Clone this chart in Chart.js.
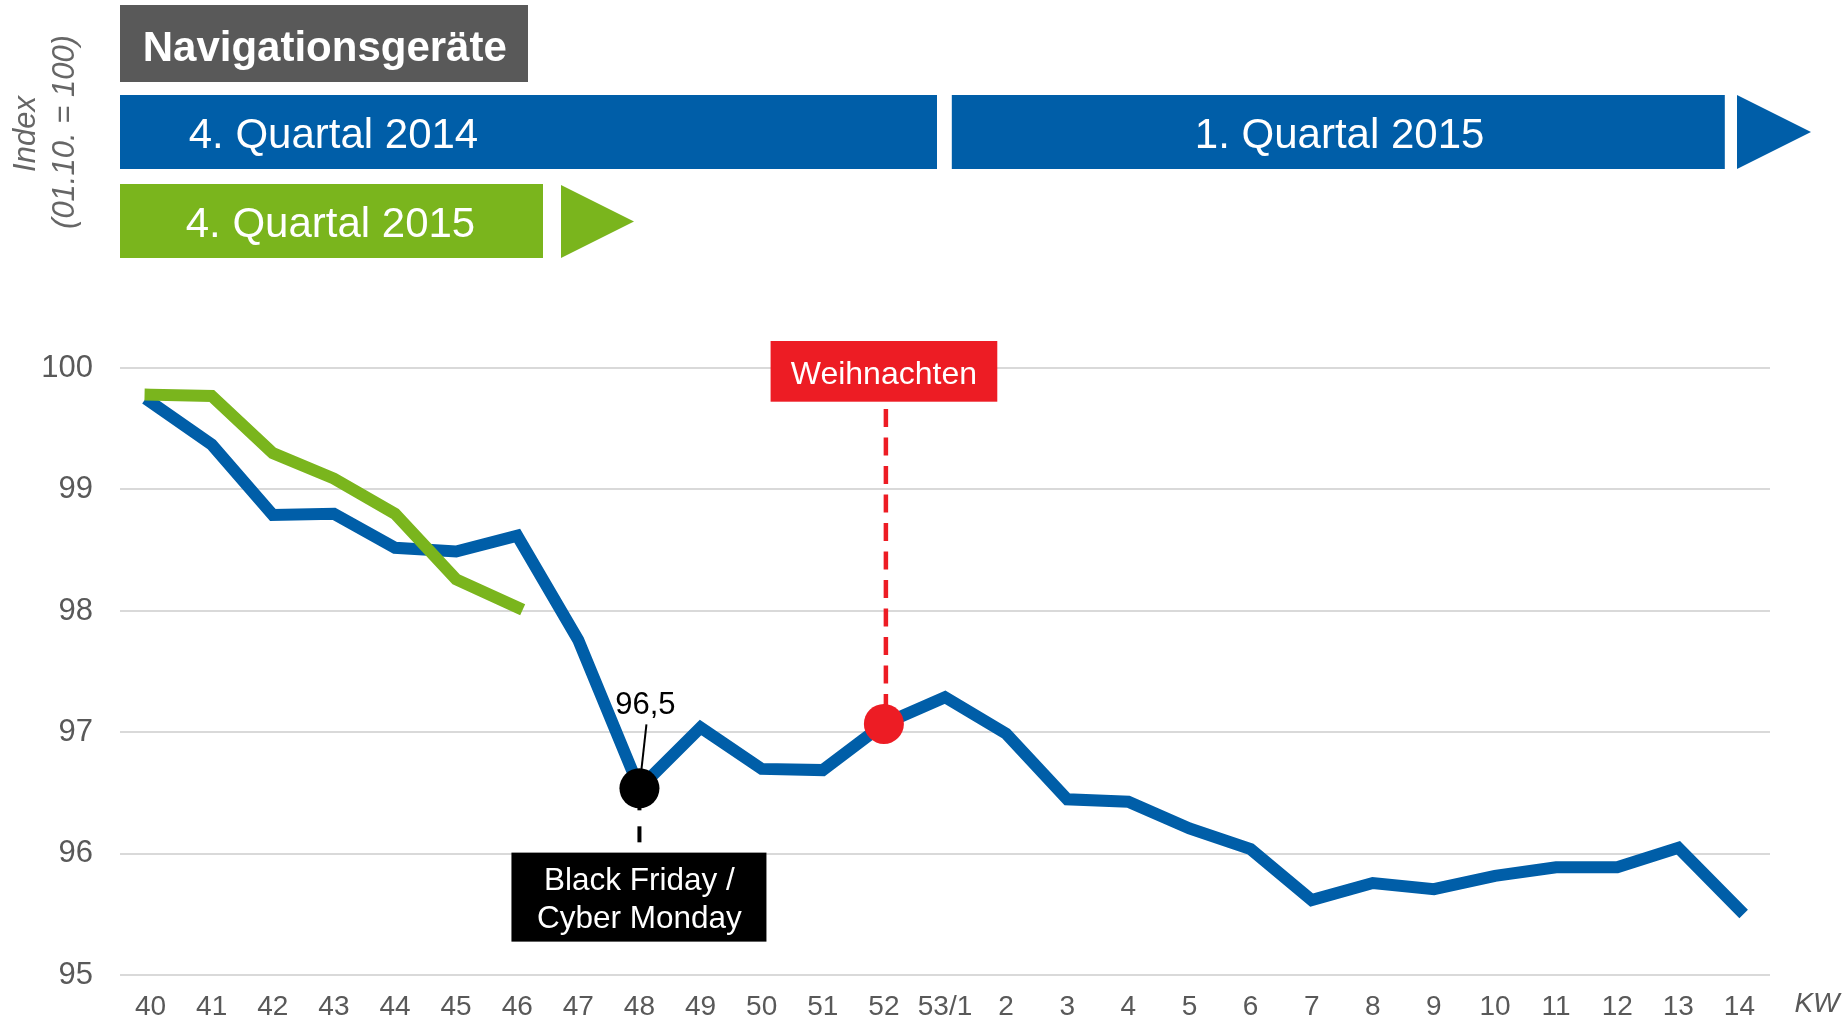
<!DOCTYPE html>
<html><head><meta charset="utf-8">
<script src="https://cdn.jsdelivr.net/npm/chart.js@4/dist/chart.umd.min.js"></script>
<style>html,body{margin:0;padding:0;background:#fff;overflow:hidden}#wrap{width:1844px;height:1021px;position:relative}</style>
</head><body><div id="wrap"><canvas id="c" width="1844" height="1021"></canvas></div>
<script>
// ---- data ----
const categories = ['40','41','42','43','44','45','46','47','48','49','50','51','52','53/1','2','3','4','5','6','7','8','9','10','11','12','13','14'];
const values2014_15 = [99.72,99.37,98.79,98.80,98.52,98.49,98.62,97.76,96.54,97.04,96.70,96.69,97.07,97.29,96.99,96.45,96.43,96.21,96.04,95.62,95.76,95.71,95.82,95.89,95.89,96.05,95.54];
const values2015 = [99.78,99.77,99.30,99.09,98.80,98.26,98.03];
const yMin = 95, yMax = 100, yStep = 1;
const titleText = 'Navigationsgeräte';
const quarterLabels = ['4. Quartal 2014','1. Quartal 2015','4. Quartal 2015'];
const yTitleLines = ['Index','(01.10. = 100)'];
const xUnit = 'KW';
const blackFridayIndex = 8;
const christmasIndex = 12;
const blackFridayText = ['Black Friday /','Cyber Monday'];
const christmasText = 'Weihnachten';

// ---- styles ----
const FONT = '"Liberation Sans", Arial, Helvetica, sans-serif';
const BLUE = '#005EA8', GREEN = '#7AB51D', RED = '#ED1C24', GRAY = '#595959', GRID = '#D9D9D9';

const pointRadius = categories.map((c,i)=> (i===blackFridayIndex||i===christmasIndex) ? 20 : 0);
const pointColors = categories.map((c,i)=> i===blackFridayIndex ? '#000000' : (i===christmasIndex ? RED : BLUE));

const annotate = {
  id:'annotate',
  beforeDatasetsDraw(chart){
    const ctx = chart.ctx, xs = chart.scales.x, ys = chart.scales.y;
    ctx.save();
    const cx = xs.getPixelForValue(christmasIndex);
    const cy = ys.getPixelForValue(values2014_15[christmasIndex]);
    const boxTop = ys.getPixelForValue(yMax) - 27;
    ctx.strokeStyle = RED; ctx.lineWidth = 4.5; ctx.setLineDash([18,10.5]);
    ctx.beginPath(); ctx.moveTo(cx+2, boxTop+68); ctx.lineTo(cx+2, cy); ctx.stroke();
    const bx = xs.getPixelForValue(blackFridayIndex);
    const by = ys.getPixelForValue(values2014_15[blackFridayIndex]);
    ctx.setLineDash([]);
    ctx.strokeStyle = '#000'; ctx.lineWidth = 2;
    ctx.beginPath(); ctx.moveTo(bx+7, by-64); ctx.lineTo(bx+1, by-10); ctx.stroke();
    ctx.lineWidth = 4; ctx.setLineDash([16,16]);
    ctx.beginPath(); ctx.moveTo(bx, by+6); ctx.lineTo(bx, by+54); ctx.stroke();
    ctx.restore();
  },
  afterDraw(chart){
    const ctx = chart.ctx, xs = chart.scales.x, ys = chart.scales.y;
    ctx.save();
    ctx.fillStyle = GRAY; ctx.fillRect(120, 5, 408, 77);
    ctx.fillStyle = '#fff'; ctx.font = 'bold 42px ' + FONT; ctx.textBaseline = 'alphabetic'; ctx.textAlign = 'left';
    ctx.fillText(titleText, 142.7, 61);
    ctx.fillStyle = BLUE;
    ctx.fillRect(120, 95, 817, 74);
    ctx.fillRect(951.8, 95, 773, 74);
    ctx.beginPath(); ctx.moveTo(1737, 95); ctx.lineTo(1811, 132); ctx.lineTo(1737, 169); ctx.closePath(); ctx.fill();
    ctx.fillStyle = GREEN;
    ctx.fillRect(120, 184, 423, 74);
    ctx.beginPath(); ctx.moveTo(561, 185); ctx.lineTo(634, 221.5); ctx.lineTo(561, 258); ctx.closePath(); ctx.fill();
    ctx.fillStyle = '#fff'; ctx.font = '42px ' + FONT;
    ctx.textAlign = 'left'; ctx.fillText(quarterLabels[0], 188.7, 148.3);
    ctx.textAlign = 'center'; ctx.fillText(quarterLabels[1], 1339.6, 147.7);
    ctx.textAlign = 'left'; ctx.fillText(quarterLabels[2], 185.7, 237.3);
    ctx.fillStyle = '#666'; ctx.font = 'italic 31px ' + FONT; ctx.textAlign = 'center';
    ctx.save(); ctx.translate(35, 134); ctx.rotate(-Math.PI/2); ctx.fillText(yTitleLines[0], 0, 0); ctx.restore();
    ctx.save(); ctx.translate(74, 132); ctx.rotate(-Math.PI/2); ctx.fillText(yTitleLines[1], 0, 0); ctx.restore();
    ctx.fillStyle = GRAY; ctx.font = 'italic 28px ' + FONT; ctx.textAlign = 'center'; ctx.textBaseline = 'top';
    ctx.fillText(xUnit, 1817, xs.top + 15);
    const cx = xs.getPixelForValue(christmasIndex);
    const boxTop = ys.getPixelForValue(yMax) - 27;
    ctx.textBaseline = 'alphabetic';
    ctx.fillStyle = RED; ctx.fillRect(cx - 113.3, boxTop, 226.7, 60.7);
    ctx.fillStyle = '#fff'; ctx.font = '32px ' + FONT; ctx.textAlign = 'center';
    ctx.fillText(christmasText, cx, boxTop + 42.5);
    const bx = xs.getPixelForValue(blackFridayIndex);
    const bv = values2014_15[blackFridayIndex];
    const by = ys.getPixelForValue(bv);
    ctx.fillStyle = '#000'; ctx.font = '31px ' + FONT; ctx.textAlign = 'center';
    ctx.fillText(bv.toFixed(1).replace('.', ','), bx + 6, by - 74);
    const bTop = by + 64.3;
    ctx.fillRect(bx - 128, bTop, 255, 89);
    ctx.fillStyle = '#fff'; ctx.font = '31.5px ' + FONT;
    ctx.fillText(blackFridayText[0], bx, bTop + 37.4);
    ctx.fillText(blackFridayText[1], bx, bTop + 75);
    ctx.restore();
  }
};

new Chart(document.getElementById('c'), {
  type:'line',
  data:{
    labels: categories,
    datasets:[
      { label:'4. Quartal 2015', data: values2015, borderColor: GREEN, borderWidth: 12, pointRadius: 0, pointHoverRadius: 0, fill:false, tension:0, borderCapStyle:'square', borderJoinStyle:'miter', order:0 },
      { label:'4. Quartal 2014 / 1. Quartal 2015', data: values2014_15, borderColor: BLUE, borderWidth: 12, pointRadius: pointRadius, pointHoverRadius: pointRadius, pointBackgroundColor: pointColors, pointBorderWidth: 0, pointBorderColor: pointColors, fill:false, tension:0, borderCapStyle:'square', borderJoinStyle:'miter', order:1 }
    ]
  },
  options:{
    responsive:false, animation:false, devicePixelRatio:1,
    layout:{ padding:{ left:0, right:74, top:368, bottom:0 } },
    plugins:{ legend:{display:false}, tooltip:{enabled:false} },
    events: [],
    scales:{
      x:{ type:'category', offset:true,
          grid:{ display:false, drawTicks:false }, border:{ display:false },
          ticks:{ color: GRAY, font:{ family: FONT, size: 28 }, padding: 15, maxRotation:0, autoSkip:false },
          afterFit(s){ s.height = 43; } },
      y:{ min:yMin, max:yMax,
          grid:{ color: GRID, lineWidth: 2, drawTicks:false }, border:{ display:false },
          ticks:{ stepSize:yStep, color: GRAY, font:{ family: FONT, size: 31 }, padding: 27, callback:(v)=>String(v) },
          afterFit(s){ s.width = 120; } }
    }
  },
  plugins:[annotate]
});
</script></body></html>
